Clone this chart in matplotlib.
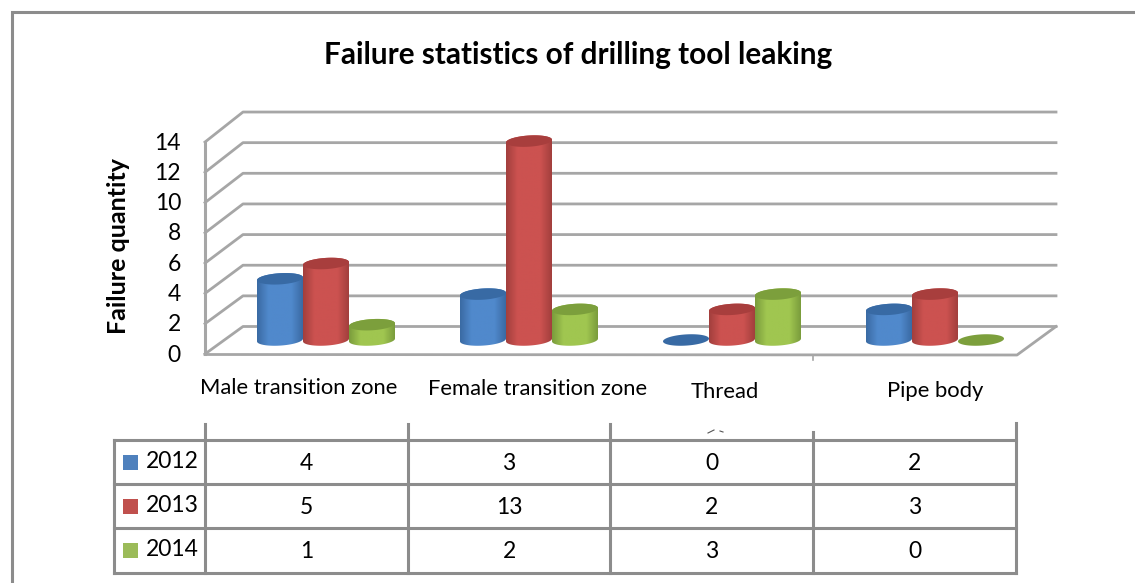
import numpy as np
import matplotlib
matplotlib.use("Agg")
import matplotlib.pyplot as plt
from matplotlib.patches import Polygon, Rectangle
from matplotlib.colors import LinearSegmentedColormap

plt.rcParams["font.family"] = ["Lato", "DejaVu Sans"]

# data
categories = ["Male transition zone", "Female transition zone", "Thread", "Pipe body"]
years = ["2012", "2013", "2014"]
v2012 = [4, 3, 0, 2]
v2013 = [5, 13, 2, 3]
v2014 = [1, 2, 3, 0]
y_ticks = [0, 2, 4, 6, 8, 10, 12, 14]
y_label = "Failure quantity"
title = "Failure statistics of drilling tool leaking"

series = [v2012, v2013, v2014]
# edge, middle, top ellipse, legend swatch
colors = [
    ("#3a6aa3", "#5089cc", "#386aa4", "#4f81bd"),
    ("#a23f3d", "#cc5250", "#a83e3d", "#c0504d"),
    ("#7a9c3c", "#a0c650", "#7c9f3c", "#9bbb59"),
]
GRAY = "#8c8c8c"
WALL = "#a6a6a6"
W, H = 1135, 583

fig = plt.figure(figsize=(W / 100, H / 100), dpi=100, facecolor="white")

# pixel layer for frame, walls and table
bg = fig.add_axes([0, 0, 1, 1])
bg.set_xlim(0, W)
bg.set_ylim(H, 0)
bg.axis("off")

# outer frame, open on the right
bg.plot([11.5, 11.5, W], [H, 11.5, 11.5], color=GRAY, lw=2.2, solid_joinstyle="miter")
bg.text(578, 55, title, ha="center", va="center", fontsize=21.4, fontweight="bold", color="black")
bg.text(119, 246, y_label, rotation=90, ha="center", va="center", fontsize=18, fontweight="bold")

# 3d walls
front_x, back_x, right_x = 205, 243, 1056
floor_end = 1017
for t in y_ticks:
    fy = 354 - t * 15.14
    by = 326.5 - t * 15.32
    bg.plot([front_x, back_x, right_x], [fy, by, by], color=WALL, lw=2.0, zorder=1)
    bg.text(181, fy + 1, str(t), ha="right", va="center", fontsize=16.5, color="black")
bg.plot([front_x, front_x], [354, 354 - 14 * 15.14], color=WALL, lw=2.2, zorder=1)
bg.plot([front_x, floor_end, right_x], [354.5, 355, 326.5], color=WALL, lw=2.0, zorder=1)
bg.plot([813, 813], [355, 360], color=WALL, lw=1.2, zorder=1)

# category labels sit a bit uneven in the original
label_x = [299, 538, 725, 935]
label_y = [388, 389, 392, 391]
for name, lx, ly in zip(categories, label_x, label_y):
    bg.text(lx, ly, name, ha="center", va="center", fontsize=15.8, color="black")

# table
col_x = [114, 205, 408, 610, 813, 1016]
row_y = [440, 484, 528, 573]
stub_top = [424, 424, 424, 432, 423]
for x, top in zip(col_x[1:], stub_top):
    bg.plot([x, x], [top, row_y[-1]], color=GRAY, lw=2.2, zorder=1)
bg.plot([col_x[0], col_x[0]], [row_y[0], row_y[-1]], color=GRAY, lw=2.2)
for y in row_y:
    bg.plot([col_x[0], col_x[-1]], [y, y], color=GRAY, lw=2.2)
for r, (year, vals) in enumerate(zip(years, series)):
    cy = (row_y[r] + row_y[r + 1]) / 2
    bg.add_patch(Rectangle((123, cy - 7.5), 15, 15, color=colors[r][3], lw=0))
    bg.text(172, cy - 1, year, ha="center", va="center", fontsize=16.5)
    for c, v in enumerate(vals):
        bg.text((col_x[c + 1] + col_x[c + 2]) / 2, cy + 1, str(v), ha="center", va="center", fontsize=16.5)

# little scrap left over in the source picture
bg.plot([708, 714], [433, 430], color="#555555", lw=0.8)
bg.plot([720, 723], [431, 432], color="#555555", lw=0.8)

# bars live in their own axes: x = category index, y = value
cat_px, group_px, unit_px, base_px = 326, 203, 15.3, 340
ax = fig.add_axes([0, 0, 1, 1])
ax.patch.set_alpha(0)
ax.axis("off")
xlim = (-cat_px / group_px, (W - cat_px) / group_px)
ylim = ((base_px - H) / unit_px, base_px / unit_px)

bar_w = 46 / group_px
semi_h = 5.6 / unit_px
tilt = 0.8


def ellipse_pts(cx, cy, a):
    return cx + bar_w / 2 * np.cos(a), cy + semi_h * np.sin(a) + tilt * bar_w / 2 * np.cos(a)


def cylinder(cx, value, col):
    edge, mid, top, _ = col
    ang_low = np.linspace(np.pi, 2 * np.pi, 40)
    ang_up = np.linspace(0, np.pi, 40)
    bx, by = ellipse_pts(cx, 0, ang_low)
    tx, ty = ellipse_pts(cx, value, ang_up)
    if value > 0:
        verts = np.column_stack([np.r_[bx, tx], np.r_[by, ty]])
        body = Polygon(verts, closed=True, fc="none", ec="none", transform=ax.transData)
        ax.add_patch(body)
        cmap = LinearSegmentedColormap.from_list("c", [edge, mid, mid, mid, edge], N=128)
        grad = np.linspace(0, 1, 128)[None, :]
        im = ax.imshow(grad, cmap=cmap, extent=(cx - bar_w / 2, cx + bar_w / 2, -1, value + 1),
                       aspect="auto", interpolation="bilinear", zorder=3)
        im.set_clip_path(body)
    a = np.linspace(0, 2 * np.pi, 80)
    ex, ey = ellipse_pts(cx, value, a)
    ax.add_patch(Polygon(np.column_stack([ex, ey]), closed=True, fc=top, ec="none", zorder=3))


offsets = [-1, 0, 1]
for s, vals in enumerate(series):
    for c, v in enumerate(vals):
        cylinder(c + offsets[s] * 46 / group_px, v, colors[s])

ax.set_xlim(*xlim)
ax.set_ylim(*ylim)

fig.savefig("out.png", dpi=100)
